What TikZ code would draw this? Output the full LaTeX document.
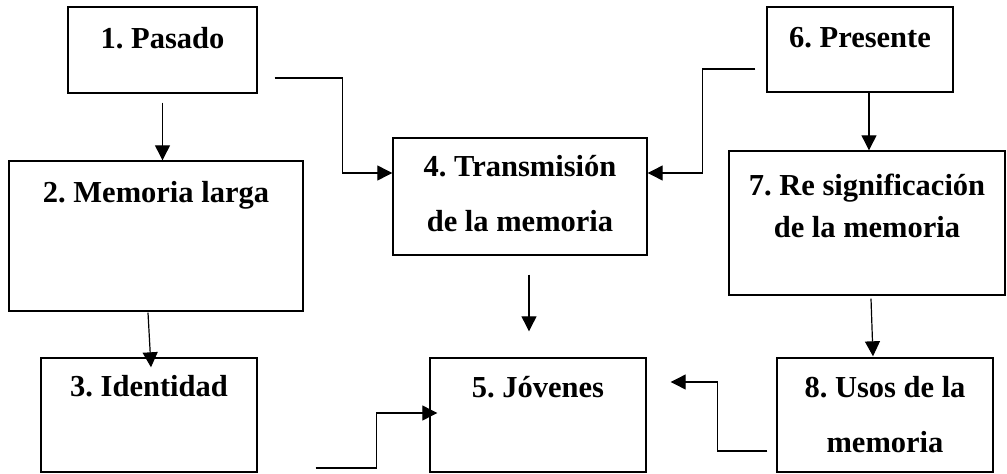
\documentclass[tikz,border=0pt]{standalone}
\usepackage{fontspec}
\setmainfont{Liberation Serif}
\usetikzlibrary{arrows.meta,calc,positioning}
\tikzset{%
	block/.style  = {draw, rectangle, line width=1.4pt, inner sep=0pt}, % Box
	title/.style  = {font=\fontsize{30.5}{55}\selectfont\bfseries\frenchspacing, align=center, inner sep=0pt, anchor=base}, % Box text
	flow/.style   = {line width=1.2pt, -{Triangle[length=15pt,width=15pt]}}, % Arrow
	waypoint/.style = {coordinate},
}
\begin{document}
\begin{tikzpicture}[x=1pt, y=-1pt]
		\useasboundingbox (0,0) rectangle (1007,474);
		\node[block, minimum width=189pt, minimum height=86pt, label={[title, yshift=-42pt]north:1. Pasado}] (pasado) at (162.5,50) {};
		\node[block, minimum width=294pt, minimum height=150pt, label={[title, yshift=-42pt]north:2. Memoria larga}] (memoria) at (156,236) {};
		\node[block, minimum width=216pt, minimum height=114pt, label={[title, yshift=-39pt]north:3. Identidad}] (identidad) at (149,415) {};
		\node[block, minimum width=254pt, minimum height=117pt, label={[title, yshift=-94pt]north:4. Transmisión\\de la memoria}] (transmision) at (520,196.5) {};
		\node[block, minimum width=216pt, minimum height=114pt, label={[title, yshift=-40pt]north:5. Jóvenes}] (jovenes) at (538,415) {};
		\node[block, minimum width=186pt, minimum height=85pt, label={[title, yshift=-41pt]north:6. Presente}] (presente) at (860,49.5) {};
		\node[block, minimum width=276pt, minimum height=144pt, label={[title, yshift=-87pt]north:7. Re significación\\[-13pt]de la memoria}] (resig) at (867,223) {};
		\node[block, minimum width=216pt, minimum height=114pt, label={[title, yshift=-95pt]north:8. Usos de la\\memoria}] (usos) at (885,415) {};
		% free ends
		\node[waypoint] (p1) at ($(pasado.east)+(17,28)$) {};
		\node[waypoint] (p6) at ($(presente.west)+(-11,19.5)$) {};
		\node[waypoint] (p3) at ($(identidad.east)+(58,53)$) {};
		\node[waypoint] (p8) at ($(usos.west)+(-9,36)$) {};
		\draw[flow] ($(pasado.south)+(0,9)$) -- (pasado.south |- memoria.north);
		\draw[flow] ($(memoria.south)+(-8,1)$) -- ($(identidad.north)+(2,10)$);
		\draw[flow] (p1) -| ($(transmision.west)+(-50,-23.5)$) -- ($(transmision.west)+(0,-23.5)$);
		\draw[flow] (p6) -| ($(transmision.east)+(55,-23.5)$) -- ($(transmision.east)+(0,-23.5)$);
		\draw[flow] ($(presente.south)+(9,0)$) -- ($(resig.north)+(2,0)$);
		\draw[flow] ($(transmision.south)+(9,19)$) -- ($(jovenes.north)+(-9,-26)$);
		\draw[flow] ($(resig.south)+(4,3)$) -- ($(usos.north)+(-12,-1)$);
		\draw[flow] (p3) -| ($(jovenes.west)+(-53,-2)$) -- ($(jovenes.west)+(8,-2)$);
		\draw[flow] (p8) -| ($(jovenes.east)+(71,-33)$) -- ($(jovenes.east)+(24,-33)$);
		\end{tikzpicture}
\end{document}
